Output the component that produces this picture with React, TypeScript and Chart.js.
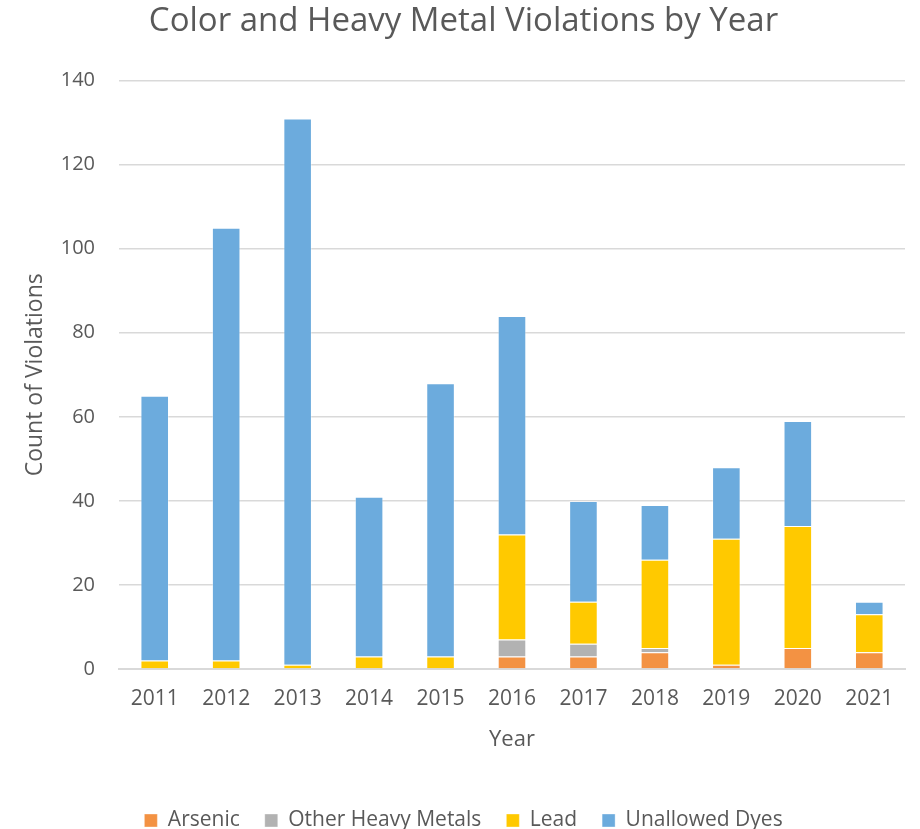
import React, { useEffect, useRef } from "react";
import { Chart, registerables } from "chart.js";

Chart.register(...registerables);

const years = ["2011", "2012", "2013", "2014", "2015", "2016", "2017", "2018", "2019", "2020", "2021"];
const arsenic = [0, 0, 0, 0, 0, 3, 3, 4, 1, 5, 4];
const otherHeavyMetals = [0, 0, 0, 0, 0, 4, 3, 1, 0, 0, 0];
const lead = [2, 2, 1, 3, 3, 25, 10, 21, 30, 29, 9];
const unallowedDyes = [63, 103, 130, 38, 65, 52, 24, 13, 17, 25, 3];
const yTicks = [0, 20, 40, 60, 80, 100, 120, 140];

const FONT = "'Open Sans', sans-serif";
const TXT = "#595959";

export default function App() {
  const ref = useRef<HTMLCanvasElement | null>(null);
  useEffect(() => {
    document.body.style.margin = "0";
    const ctx = ref.current!;
    const mk = (label: string, data: number[], color: string) => ({
      label,
      data,
      backgroundColor: color,
      borderColor: "rgba(255,255,255,0.35)",
      borderWidth: 1,
      barPercentage: 0.4,
      categoryPercentage: 1,
    });
    const chart = new Chart(ctx, {
      type: "bar",
      data: {
        labels: years,
        datasets: [
          mk("Arsenic", arsenic, "#F39243"),
          mk("Other Heavy Metals", otherHeavyMetals, "#B2B2B2"),
          mk("Lead", lead, "#FFC900"),
          mk("Unallowed Dyes", unallowedDyes, "#6CABDD"),
        ],
      },
      options: {
        animation: false,
        responsive: false,
        maintainAspectRatio: false,
        layout: { padding: { left: 22, right: 15, top: 0, bottom: 0 } },
        plugins: {
          title: {
            display: true,
            text: "Color and Heavy Metal Violations by Year",
            color: TXT,
            font: { family: FONT, size: 33, weight: "normal" },
            padding: { top: 2, bottom: 39 },
          },
          legend: {
            position: "bottom",
            labels: {
              color: TXT,
              font: { family: FONT, size: 21 },
              boxWidth: 13,
              boxHeight: 13,
              padding: 25,
            },
          },
          tooltip: { enabled: false },
        },
        scales: {
          x: {
            stacked: true,
            grid: { display: false, drawTicks: false },
            border: { color: "#d9d9d9", width: 2 },
            ticks: { color: TXT, font: { family: FONT, size: 21 }, padding: 17 },
            title: {
              display: true,
              text: "Year",
              color: TXT,
              font: { family: FONT, size: 22 },
              padding: { top: 10, bottom: 32 },
            },
            afterFit: (axis: any) => {
              axis.height = 116;
            },
          },
          y: {
            stacked: true,
            min: 0,
            max: 140,
            afterBuildTicks: (axis: any) => {
              axis.ticks = yTicks.map((v) => ({ value: v }));
            },
            ticks: { color: TXT, font: { family: FONT, size: 20 }, padding: 24 },
            grid: { color: "#d9d9d9", lineWidth: 1.5, drawTicks: false },
            border: { display: false },
            title: {
              display: true,
              text: "Count of Violations",
              color: TXT,
              font: { family: FONT, size: 23 },
              padding: { top: 0, bottom: 0 },
            },
            afterFit: (axis: any) => {
              axis.width = 97;
            },
          },
        },
      },
    });
    return () => chart.destroy();
  }, []);
  return (
    <div style={{ width: 920, height: 829, overflow: "hidden" }}>
      <canvas ref={ref} width={920} height={841} style={{ width: 920, height: 841, display: "block" }} />
    </div>
  );
}
